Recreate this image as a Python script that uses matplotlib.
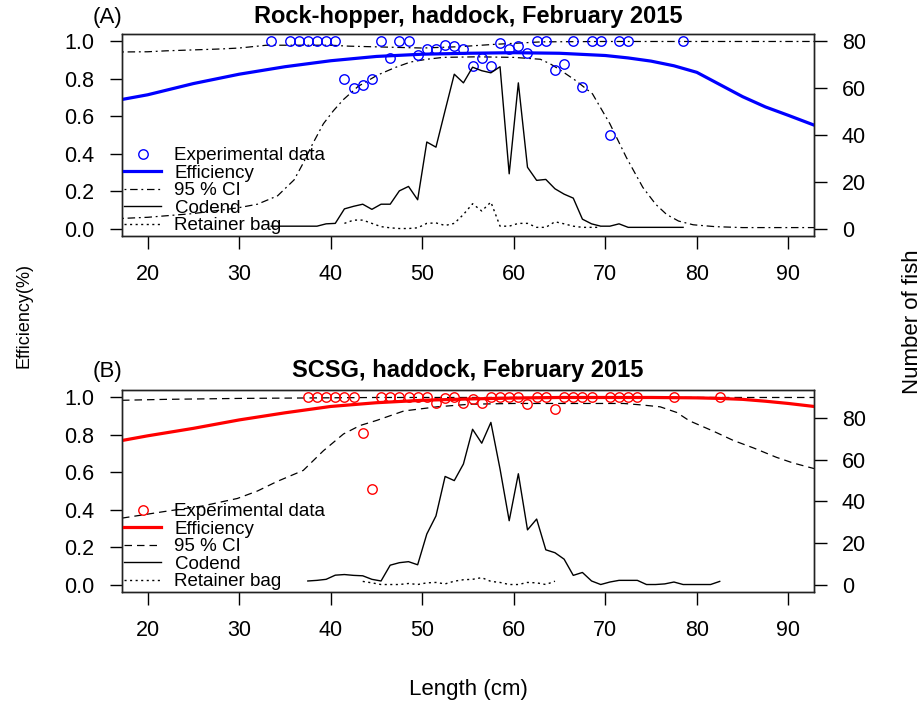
import matplotlib
matplotlib.use('Agg')
import matplotlib.pyplot as plt

plt.rcParams['font.family'] = ['Liberation Sans', 'DejaVu Sans']

# ---------------- Panel A : Rock-hopper ----------------
a_exp_len = [33.5, 35.5, 36.5, 37.5, 38.5, 39.5, 40.5, 41.5, 42.5, 43.5, 44.5, 45.5,
             46.5, 47.5, 48.5, 49.5, 50.5, 51.5, 52.5, 53.5, 54.5, 55.5, 56.5, 57.5,
             58.5, 59.5, 60.5, 61.5, 62.5, 63.5, 64.5, 65.5, 66.5, 67.5, 68.5, 69.5,
             70.5, 71.5, 72.5, 78.5]
a_exp_eff = [1.0, 1.0, 1.0, 1.0, 1.0, 1.0, 1.0, 0.80, 0.75, 0.77, 0.80, 1.0,
             0.91, 1.0, 1.0, 0.928, 0.96, 0.96, 0.98, 0.975, 0.962, 0.87, 0.91, 0.87,
             0.99, 0.96, 0.975, 0.937, 1.0, 1.0, 0.85, 0.88, 1.0, 0.755, 1.0, 1.0,
             0.50, 1.0, 1.0, 1.0]

a_curve_len = [17.2, 20, 25, 30, 35, 40, 45, 50, 55, 60, 65, 70, 72.5, 75, 77.5,
               80, 82.5, 85, 87.5, 90, 92.8]
a_eff = [0.69, 0.715, 0.775, 0.825, 0.865, 0.897, 0.92, 0.932, 0.937, 0.94, 0.937,
         0.925, 0.912, 0.895, 0.87, 0.835, 0.77, 0.705, 0.65, 0.605, 0.553]

a_ci_up_len = [17.2, 20, 22, 25, 28, 30, 33, 38, 40, 42, 46, 50, 54, 58, 60, 63, 70, 92.8]
a_ci_up = [0.944, 0.945, 0.95, 0.955, 0.96, 0.965, 0.98, 0.98, 0.98, 0.975, 0.97,
           0.965, 0.972, 0.985, 0.99, 0.998, 1.0, 1.0]

a_ci_lo_len = [17.2, 20, 25, 29.8, 32, 34.2, 36, 37, 38, 39.2, 40.3, 41.4, 43, 45.1,
               47, 48.7, 50.5, 52.3, 56, 60, 62.9, 64, 65, 66.8, 68.6, 70.5, 72.3,
               74.1, 75.5, 76.7, 78, 79.6, 82, 85, 92.8]
a_ci_lo = [0.054, 0.06, 0.08, 0.11, 0.13, 0.175, 0.26, 0.35, 0.45, 0.56, 0.63, 0.69,
           0.76, 0.82, 0.86, 0.89, 0.905, 0.915, 0.918, 0.915, 0.905, 0.88, 0.85,
           0.79, 0.72, 0.56, 0.38, 0.22, 0.13, 0.075, 0.04, 0.02, 0.01, 0.005, 0.005]

a_codend_len = [33.5, 34.5, 35.5, 36.5, 37.5, 38.5, 39.5, 40.5, 41.5, 42.5, 43.5, 44.5,
                45.5, 46.5, 47.5, 48.5, 49.5, 50.5, 51.5, 52.5, 53.5, 54.5, 55.5, 56.5,
                57.5, 58.5, 59.5, 60.5, 61.5, 62.5, 63.5, 64.5, 65.5, 66.5, 67.5, 68.5,
                69.5, 70.5, 71.5, 72.5, 73.5, 74.5, 75.5, 76.5, 77.5, 78.5]
a_codend = [1, 1, 1, 1, 1, 1, 2, 2.2, 8.4, 9.5, 10.4, 8.2,
            10.4, 10.4, 16.1, 18, 12.3, 37, 34.8, 50.5, 66, 62.3, 69, 67.5,
            66.6, 69.2, 23.4, 62.3, 26.2, 20.6, 21, 17, 14.7, 13, 4, 2,
            1, 1, 2, 0.5, 0.5, 0.5, 0.5, 0.5, 0.5, 0.5]

a_retainer_len = [41.5, 42.5, 43.5, 44.5, 45.5, 46.5, 47.5, 48.5, 49.5, 50.5, 51.5,
                  52.5, 53.5, 54.5, 55.5, 56.5, 57.5, 58.5, 59.5, 60.5, 61.5, 62.5,
                  63.5, 64.5, 65.5, 66.5, 67.5, 68.5, 69.5]
a_retainer = [2.2, 3.6, 3.6, 2.2, 0.8, 0.3, 0, 0, 0.3, 2.2, 2.4,
              1.3, 2.2, 6, 10.6, 7.5, 11.3, 1, 1, 2.2, 2.2, 0.5,
              0.5, 2.9, 2, 1, 0.5, 0.5, 0.5]

# ---------------- Panel B : SCSG ----------------
b_exp_len = [37.5, 38.5, 39.5, 40.5, 41.5, 42.5, 43.5, 44.5, 45.5, 46.5, 47.5, 48.5,
             49.5, 50.5, 51.5, 52.5, 53.5, 54.5, 55.5, 56.5, 57.5, 58.5, 59.5, 60.5,
             61.5, 62.5, 63.5, 64.5, 65.5, 66.5, 67.5, 68.5, 70.5, 71.5, 72.5, 73.5,
             77.5, 82.5]
b_exp_eff = [1.0, 1.0, 1.0, 1.0, 1.0, 1.0, 0.81, 0.51, 1.0, 1.0, 1.0, 1.0,
             1.0, 1.0, 0.97, 0.995, 1.0, 0.97, 0.99, 0.97, 1.0, 1.0, 1.0, 1.0,
             0.965, 1.0, 1.0, 0.94, 1.0, 1.0, 1.0, 1.0, 1.0, 1.0, 1.0, 1.0,
             1.0, 1.0]

b_curve_len = [17.2, 20, 25, 30, 35, 40, 45, 50, 55, 60, 65, 75, 80, 82.5, 85, 87.5,
               90, 92.8]
b_eff = [0.77, 0.795, 0.835, 0.88, 0.918, 0.952, 0.972, 0.985, 0.992, 0.997, 1.0,
         1.0, 0.998, 0.995, 0.99, 0.98, 0.968, 0.952]

b_ci_up_len = [17.2, 22, 30, 45, 92.8]
b_ci_up = [0.985, 0.99, 0.995, 1.0, 1.0]

b_ci_lo_len = [17.2, 21.8, 26, 29.8, 32, 34.1, 37, 39.2, 41.4, 43.2, 45, 48, 51.6,
               55.2, 60, 72, 74, 76, 77.8, 79.2, 81.8, 84, 86.2, 88.7, 90.5, 92.8]
b_ci_lo = [0.355, 0.39, 0.42, 0.46, 0.5, 0.55, 0.61, 0.715, 0.805, 0.85, 0.877,
           0.928, 0.95, 0.964, 0.968, 0.968, 0.96, 0.95, 0.92, 0.875, 0.82, 0.77,
           0.73, 0.68, 0.65, 0.62]

b_codend_len = [37.5, 38.5, 39.5, 40.5, 41.5, 42.5, 43.5, 44.5, 45.5, 46.5, 47.5, 48.5,
                49.5, 50.5, 51.5, 52.5, 53.5, 54.5, 55.5, 56.5, 57.5, 58.5, 59.5, 60.5,
                61.5, 62.5, 63.5, 64.5, 65.5, 66.5, 67.5, 68.5, 69.5, 70.5, 71.5, 72.5,
                73.5, 74.5, 75.5, 76.5, 77.5, 78.5, 79.5, 80.5, 81.5, 82.5]
b_codend = [1.7, 2, 2.5, 4.5, 4.8, 4.4, 4.2, 2.5, 1.7, 9.3, 10.5, 11,
            9.5, 24.3, 33, 52, 50, 58, 74.7, 68, 78, 55.6, 30.7, 53.3,
            26.3, 31.5, 16.7, 15.3, 12.2, 4.4, 5.8, 1.7, 0, 1.2, 2, 2,
            2, 0, 0, 0.3, 1.2, 0, 0, 0, 0, 1.5]

b_retainer_len = [43.5, 44.5, 45.5, 46.5, 47.5, 48.5, 49.5, 50.5, 51.5, 52.5, 53.5,
                  54.5, 55.5, 56.5, 57.5, 58.5, 59.5, 60.5, 61.5, 62.5, 63.5, 64.5]
b_retainer = [1.5, 0.8, 0, 0, 0, 0.5, 0, 0.8, 1, 0.3, 1.6,
              2.3, 2.5, 3.3, 1.5, 1, 0, 0, 1, 0.8, 0, 1.6]

eff_ticks = [0.0, 0.2, 0.4, 0.6, 0.8, 1.0]
fish_ticks = [0, 20, 40, 60, 80]
len_ticks = [20, 30, 40, 50, 60, 70, 80, 90]

W, H = 924, 704
TICK = 15.5


def px(x, y):
    """Pixel position (from top left) to figure fraction."""
    return x / W, 1 - y / H


def style_axis(ax):
    ax.tick_params(direction='out', length=9, width=1, pad=11, labelsize=TICK,
                   colors='black')
    for s in ax.spines.values():
        s.set_linewidth(1)
        s.set_color('#222222')


def draw_panel(ax, col, ci_dash, exp_len, exp_eff, curve_len, eff,
               up_len, up, lo_len, lo, cod_len, cod, ret_len, ret, fish_max):
    ax.plot(exp_len, exp_eff, 'o', mfc='none', mec=col, ms=6.8, mew=1.0,
            label='Experimental data', zorder=4)
    ax.plot(curve_len, eff, '-', color=col, lw=2.3, label='Efficiency', zorder=3)
    ax.plot(up_len, up, color='black', lw=0.9, dashes=ci_dash, label='95 % CI')
    ax.plot(lo_len, lo, color='black', lw=0.9, dashes=ci_dash)
    ax.set_xlim(17.2, 92.8)
    ax.set_ylim(-0.04, 1.04)
    ax.set_xticks(len_ticks)
    ax.set_yticks(eff_ticks)
    ax.set_yticklabels(['%.1f' % t for t in eff_ticks])
    style_axis(ax)

    # counts go on a second y axis
    ax2 = ax.twinx()
    ax2.plot(cod_len, cod, '-', color='black', lw=1.0, label='Codend')
    ax2.plot(ret_len, ret, color='black', lw=1.0, dashes=(1.5, 2.5), label='Retainer bag')
    ax2.set_ylim(-0.04 * fish_max, 1.04 * fish_max)
    ax2.set_yticks(fish_ticks)
    style_axis(ax2)

    h1, l1 = ax.get_legend_handles_labels()
    h2, l2 = ax2.get_legend_handles_labels()
    ax2.legend(h1 + h2, l1 + l2, loc='lower left', bbox_to_anchor=(0.0, 0.0),
               frameon=False, fontsize=13.5, labelspacing=0.02, handlelength=2.0,
               handletextpad=0.7, borderpad=0.1, borderaxespad=0.0)
    return ax2


fig = plt.figure(figsize=(W / 100, H / 100), dpi=100)

ax_a = fig.add_axes([122 / W, 1 - 236 / H, 692 / W, 202 / H])
draw_panel(ax_a, 'blue', (1.5, 3, 6, 3), a_exp_len, a_exp_eff, a_curve_len, a_eff,
           a_ci_up_len, a_ci_up, a_ci_lo_len, a_ci_lo, a_codend_len, a_codend,
           a_retainer_len, a_retainer, 80)

ax_b = fig.add_axes([122 / W, 1 - 592 / H, 692 / W, 202 / H])
draw_panel(ax_b, 'red', (6, 4), b_exp_len, b_exp_eff, b_curve_len, b_eff,
           b_ci_up_len, b_ci_up, b_ci_lo_len, b_ci_lo, b_codend_len, b_codend,
           b_retainer_len, b_retainer, 90)

fig.text(*px(107, 17), '(A)', ha='center', va='center', fontsize=16)
fig.text(*px(468, 16), 'Rock-hopper, haddock, February 2015', ha='center',
         va='center', fontsize=17, fontweight='bold')
fig.text(*px(107, 371), '(B)', ha='center', va='center', fontsize=16)
fig.text(*px(468, 371), 'SCSG, haddock, February 2015', ha='center',
         va='center', fontsize=17, fontweight='bold')

fig.text(*px(24, 315), 'Efficiency(%)', rotation=90, ha='center', va='center',
         fontsize=13)
fig.text(*px(912, 322), 'Number of fish', rotation=90, ha='center', va='center',
         fontsize=16)
fig.text(*px(468, 690), 'Length (cm)', ha='center', va='center', fontsize=16)

fig.savefig('out.png', dpi=100)
